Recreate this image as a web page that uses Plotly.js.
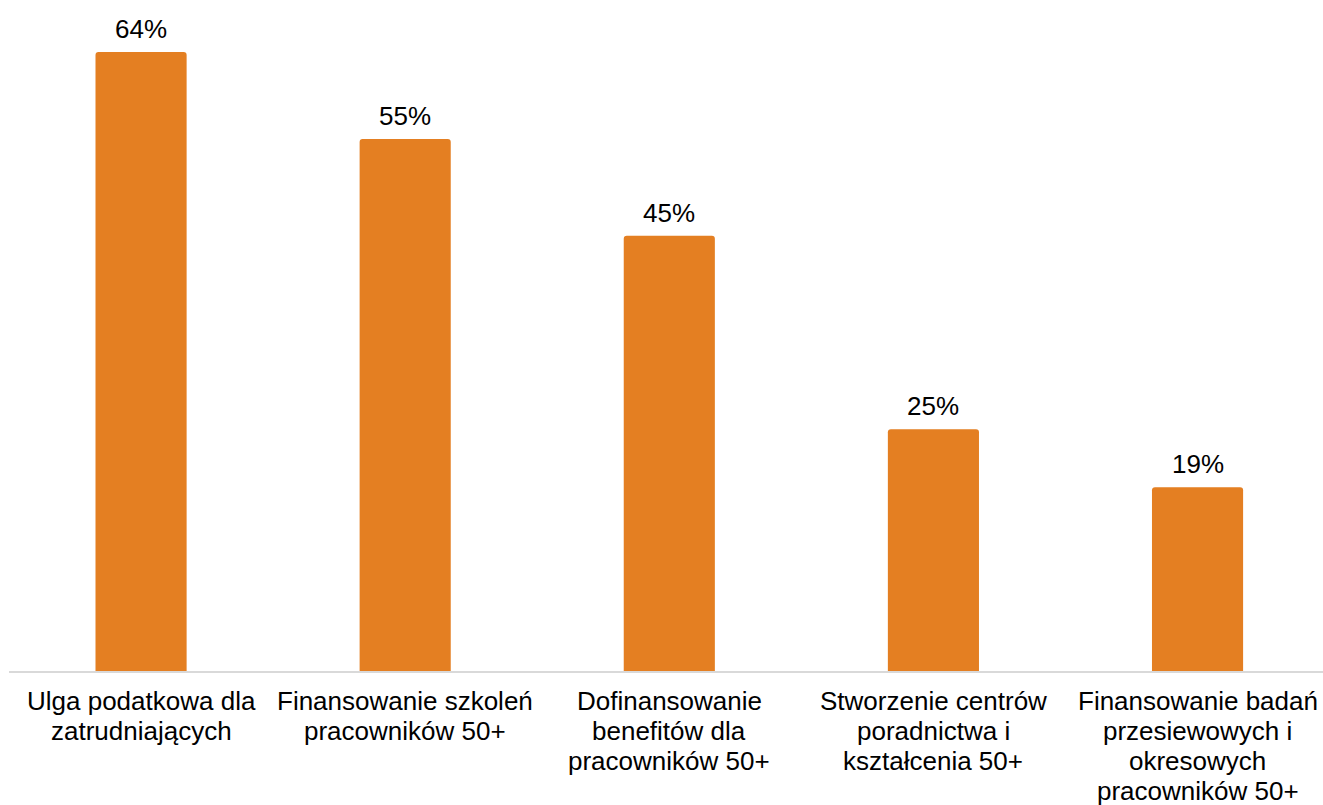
<!DOCTYPE html>
<html>
<head>
<meta charset="utf-8">
<script src="https://cdn.plot.ly/plotly-3.0.1.min.js"></script>
<style>html,body{margin:0;padding:0;background:#fff;}#chart{width:1323px;height:805px;}</style>
</head>
<body>
<div id="chart"></div>
<script>
const categories = [
  "Ulga podatkowa dla<br>zatrudniających",
  "Finansowanie szkoleń<br>pracowników 50+",
  "Dofinansowanie<br>benefitów dla<br>pracowników 50+",
  "Stworzenie centrów<br>poradnictwa i<br>kształcenia 50+",
  "Finansowanie badań<br>przesiewowych i<br>okresowych<br>pracowników 50+"
];
const values = [64, 55, 45, 25, 19];
const valueLabels = values.map(v => v + "%");

const FONT = "Liberation Sans, Arial, sans-serif";
const FS = 26;
const LINE = 30;

const trace = {
  type: "bar",
  x: categories,
  y: values,
  marker: {color: "#E47F22", line: {width: 0}, cornerradius: 3},
  hoverinfo: "none"
};

const annotations = [];
categories.forEach((cat, i) => {
  annotations.push({
    x: cat, y: values[i], xref: "x", yref: "y",
    text: valueLabels[i], showarrow: false,
    yanchor: "bottom", yshift: 6,
    font: {family: FONT, size: FS, color: "#000"}
  });
  cat.split("<br>").forEach((line, j) => {
    annotations.push({
      x: cat, y: 0, xref: "x", yref: "paper",
      text: line, showarrow: false,
      yanchor: "top", yshift: -13 - j * LINE,
      font: {family: FONT, size: FS, color: "#000"}
    });
  });
});

const layout = {
  width: 1323, height: 805,
  margin: {l: 9, r: 0, t: 20, b: 134},
  paper_bgcolor: "#fff", plot_bgcolor: "#fff",
  showlegend: false,
  bargap: 0.655,
  font: {family: FONT, size: FS, color: "#000"},
  xaxis: {
    range: [-0.5, 4.475],
    showgrid: false, zeroline: false,
    showline: true, linecolor: "#d9d9d9", linewidth: 2,
    ticks: "", showticklabels: false,
    fixedrange: true
  },
  yaxis: {
    range: [0, 67.3],
    visible: false, showgrid: false, zeroline: false,
    fixedrange: true
  },
  annotations: annotations
};

Plotly.newPlot("chart", [trace], layout, {displayModeBar: false, staticPlot: true});
</script>
</body>
</html>
